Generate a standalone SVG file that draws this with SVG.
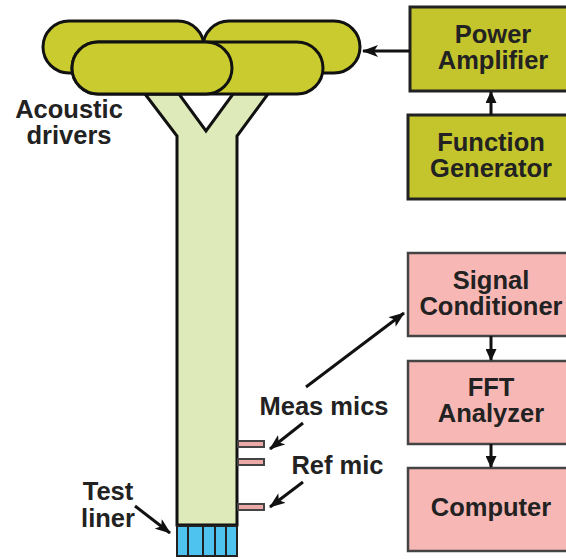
<svg xmlns="http://www.w3.org/2000/svg" width="566" height="559" viewBox="0 0 566 559">
<style>
text{font-family:"Liberation Sans",Arial,sans-serif;font-weight:700;font-size:25.5px;fill:#222;text-anchor:middle}
.drv{fill:#c9cb2f;stroke:#111;stroke-width:3}
.box{fill:#c4c52c;stroke:#222;stroke-width:3}
.pink{fill:#f7b8b5;stroke:#444;stroke-width:2.5}
.tube{fill:#dfeaba;stroke:#111;stroke-width:3;stroke-linejoin:miter}
.mic{fill:#eda9a8;stroke:#444;stroke-width:2}
.cell{fill:#4ec3ef;stroke:#222;stroke-width:2}
.arr{fill:none;stroke:#111;stroke-width:3;marker-end:url(#a)}
.sm{fill:none;stroke:#111;stroke-width:3;marker-end:url(#b)}
</style>
<defs>
<marker id="a" viewBox="0 0 16 12" refX="15" refY="6" markerWidth="16" markerHeight="12" markerUnits="userSpaceOnUse" orient="auto"><path d="M0 0L16 6L0 12L4 6Z" fill="#111"/></marker>
<marker id="b" viewBox="0 0 12 11" refX="11" refY="5.500" markerWidth="12" markerHeight="11" markerUnits="userSpaceOnUse" orient="auto"><path d="M0 0L12 5.500L0 11Z" fill="#111"/></marker>
</defs>
<g id="duct"><path class="tube" d="M145 94L177 136V525H237V136L268 94H233L206 131L179 94Z"/></g>
<g id="liner"><rect class="cell" x="177" y="526" width="60" height="30"/><path d="M188 526V556M203 526V556M215 526V556M226 526V556" stroke="#222" stroke-width="2"/></g>
<g id="mic1"><rect class="mic" x="238" y="441" width="26" height="6"/></g>
<g id="mic2"><rect class="mic" x="238" y="459" width="26" height="6"/></g>
<g id="mic3"><rect class="mic" x="238" y="504" width="26" height="6"/></g>
<g id="driver-right"><rect class="drv" x="203" y="21" width="157" height="52" rx="26"/></g>
<g id="driver-left"><rect class="drv" x="43" y="21" width="161" height="52" rx="26"/></g>
<g id="driver-back"><rect class="drv" x="72" y="42" width="251" height="52" rx="26"/></g>
<g id="driver-front"><rect class="drv" x="72" y="42" width="160" height="52" rx="26"/></g>
<g id="power-amplifier"><rect class="box" x="410" y="7" width="160" height="84"/><text x="493" y="43">Power</text><text x="493" y="69">Amplifier</text></g>
<g id="function-generator"><rect class="box" x="408" y="115" width="162" height="84"/><text x="491" y="151">Function</text><text x="491" y="177">Generator</text></g>
<g id="signal-conditioner"><rect class="pink" x="408" y="253" width="162" height="83"/><text x="491" y="289">Signal</text><text x="491" y="315">Conditioner</text></g>
<g id="fft-analyzer"><rect class="pink" x="408" y="361" width="162" height="83"/><text x="491" y="396">FFT</text><text x="491" y="422">Analyzer</text></g>
<g id="computer"><rect class="pink" x="408" y="468" width="162" height="83"/><text x="491" y="516">Computer</text></g>
<g id="labels"><text x="69" y="118">Acoustic</text><text x="69" y="144">drivers</text><text x="324" y="415">Meas mics</text><text x="337.500" y="474">Ref mic</text><text x="108" y="500">Test</text><text x="108" y="527">liner</text></g>
<g id="connectors">
<path class="arr" d="M410 51H363"/>
<path class="sm" d="M491 115V92"/>
<path class="sm" d="M491 336V360"/>
<path class="sm" d="M491 444V467"/>
<path class="arr" d="M306 387L404 313"/>
<path class="arr" d="M303 423L270 449"/>
<path class="arr" d="M303 482L270 507"/>
<path class="arr" d="M135 506L170 533"/>
</g>
</svg>
